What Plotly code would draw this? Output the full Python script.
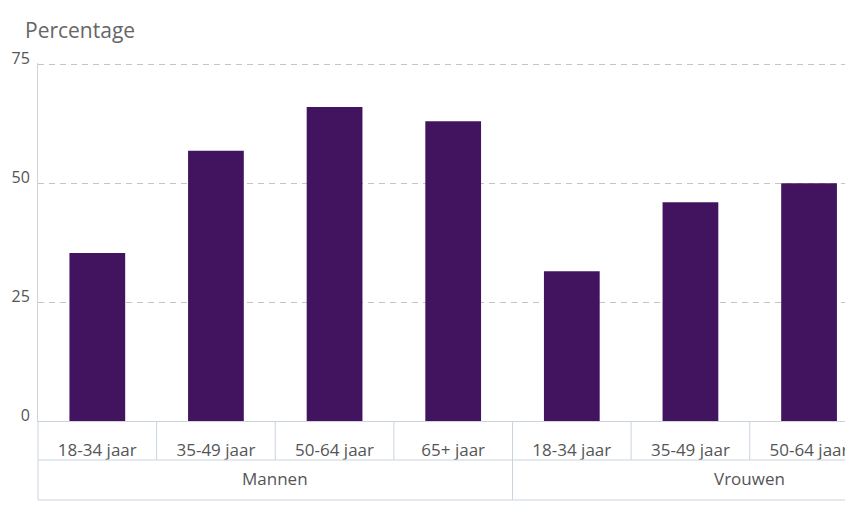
import plotly.graph_objects as go

groups = ["Mannen"] * 4 + ["Vrouwen"] * 4
ages = ["18-34 jaar", "35-49 jaar", "50-64 jaar", "65+ jaar"] * 2
values = [35.3, 56.8, 66.0, 63.0, 31.5, 46.0, 50.0, 52.0]
y_ticks = [0, 25, 50, 75]

BAR = "#42145f"
LINE = "#c9d4df"
GRID = "#c4c4c4"
TXT = "#555555"
FONT = "Open Sans"

W, H = 987, 512
L, T, B = 38, 63, 91
PW = W - L
PH = H - T - B

def py(px):
    return (H - B - px) / PH

def pxx(px):
    return (px - L) / PW

n = len(ages)
xpos = list(range(n))

fig = go.Figure(go.Bar(x=xpos, y=values, marker_color=BAR, marker_line_width=0))

# group spans
group_names = []
for g in groups:
    if g not in group_names:
        group_names.append(g)
group_idx = {g: [i for i, gg in enumerate(groups) if gg == g] for g in group_names}

shapes = []
for k in range(1, n):
    is_group_edge = groups[k] != groups[k - 1]
    y_end = py(500) if is_group_edge else py(460)
    shapes.append(dict(type="line", xref="paper", yref="paper", x0=k / n, x1=k / n,
                       y0=0, y1=y_end, line=dict(color=LINE, width=1)))
shapes.append(dict(type="line", xref="paper", yref="paper", x0=0, x1=0,
                   y0=0, y1=py(500), line=dict(color=LINE, width=1)))
for yy in [460, 500]:
    shapes.append(dict(type="line", xref="paper", yref="paper", x0=0, x1=1,
                       y0=py(yy), y1=py(yy), line=dict(color=LINE, width=1)))
# page edge crop
shapes.append(dict(type="rect", xref="paper", yref="paper", x0=pxx(845), x1=1.2,
                   y0=-0.5, y1=1.5, fillcolor="white", line=dict(width=0), layer="above"))

annotations = [dict(text="Percentage", xref="paper", yref="paper",
                    x=pxx(23), y=py(30), xanchor="left", yanchor="middle",
                    showarrow=False, font=dict(size=21, color="#666666", family=FONT))]
for g in group_names:
    idx = group_idx[g]
    annotations.append(dict(text=g, xref="x", yref="paper",
                            x=(idx[0] + idx[-1]) / 2, y=py(478),
                            xanchor="center", yanchor="middle", showarrow=False,
                            font=dict(size=17, color=TXT, family=FONT)))

fig.update_layout(
    width=W, height=H,
    margin=dict(l=L, r=0, t=T, b=B),
    paper_bgcolor="white", plot_bgcolor="white",
    bargap=0.53,
    showlegend=False,
    font=dict(family=FONT, color=TXT),
    xaxis=dict(range=[-0.5, n - 0.5], tickvals=xpos, ticktext=ages,
               showgrid=False, zeroline=False,
               showline=True, linecolor=LINE, linewidth=1, ticks="",
               tickfont=dict(size=17, color=TXT, family=FONT),
               ticklabelstandoff=14),
    yaxis=dict(range=[0, 75.25], tickvals=y_ticks, showgrid=True, gridcolor=GRID,
               griddash="6px,5px", gridwidth=1, zeroline=False,
               showline=True, linecolor=LINE, linewidth=1,
               tickfont=dict(size=16, color=TXT, family=FONT), ticklabelshift=-6,
               ticklabelstandoff=4, ticks=""),
    shapes=shapes,
    annotations=annotations,
)

fig.write_html("out.html",
               post_script="document.body.style.overflow='hidden';document.documentElement.style.overflow='hidden';")
